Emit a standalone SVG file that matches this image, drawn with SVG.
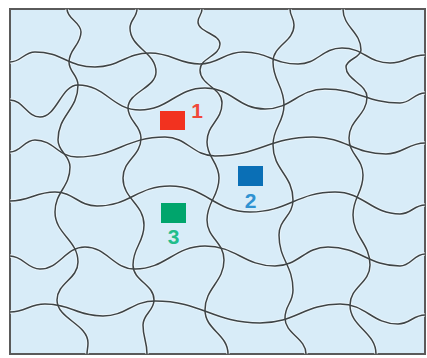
<svg xmlns="http://www.w3.org/2000/svg" width="427" height="358" viewBox="0 0 427 358">
<style>
.bg{fill:#d8ecf8;stroke:#5a5a5a;stroke-width:2}
.halo{fill:none;stroke:#f4fafd;stroke-width:3.4;opacity:0.7}
.ln{fill:none;stroke:#3e4446;stroke-width:1.5}
.lbl{font-family:"Liberation Sans",Arial,sans-serif;font-size:21px;font-weight:bold;text-anchor:middle}
</style>
<defs>
<g id="grid">
<path d="M10 62 C21 62 24 52 35 52 C62 52 68 67 95 67 C120 67 125 53 150 53 C172 53 178 64 200 64 C219 64 224 52 243 52 C268 52 273 64 298 64 C318 64 322 48 342 48 C364 48 368 63 390 63 C406 63 409 55 425 55"/>
<path d="M10 100 C23 100 27 117 40 117 C57 117 61 85 78 85 C106 85 112 110 140 110 C169 110 176 88 205 88 C232 88 238 109 265 109 C292 109 298 89 325 89 C359 89 366 103 400 103 C411 103 414 93 425 93"/>
<path d="M10 152 C21 152 24 140 35 140 C54 140 58 157 77 157 C117 157 125 137 165 137 C187 137 193 156 215 156 C259 156 269 137 313 137 C346 137 353 154 386 154 C403 154 408 143 425 143"/>
<path d="M10 201 C30 201 35 192 55 192 C74 192 78 206 97 206 C130 206 137 186 170 186 C206 186 214 212 250 212 C288 212 297 192 335 192 C364 192 371 214 400 214 C411 214 414 205 425 205"/>
<path d="M10 256 C23 256 27 269 40 269 C60 269 65 247 85 247 C107 247 113 269 135 269 C166 269 174 246 205 246 C236 246 244 266 275 266 C299 266 304 247 328 247 C360 247 368 266 400 266 C411 266 414 254 425 254"/>
<path d="M10 312 C26 312 29 304 45 304 C71 304 77 316 103 316 C126 316 132 301 155 301 C202 301 213 323 260 323 C296 323 304 304 340 304 C366 304 372 324 398 324 C410 324 413 315 425 315"/>
<path d="M67 9 C67 19 81 22 81 32 C81 45 69 49 69 62 C69 72 78 75 78 85 C78 110 58 115 58 140 C58 152 70 155 70 167 C70 187 55 192 55 212 C55 234 78 240 78 262 C78 279 57 283 57 300 C57 319 88 324 88 343 C88 348 87 350 87 354"/>
<path d="M137 9 C137 17 130 20 130 28 C130 48 156 52 156 72 C156 88 128 92 128 108 C128 121 141 125 141 138 C141 156 123 160 123 178 C123 199 144 204 144 225 C144 243 133 247 133 265 C133 281 154 284 154 300 C154 311 143 314 143 325 C143 338 147 341 147 354"/>
<path d="M202 9 C202 15 198 16 198 22 C198 32 220 34 220 44 C220 56 200 58 200 70 C200 85 222 88 222 103 C222 121 207 124 207 142 C207 158 219 162 219 178 C219 197 207 201 207 220 C207 238 224 242 224 260 C224 282 205 288 205 310 C205 330 228 334 228 354"/>
<path d="M290 9 C290 16 294 18 294 25 C294 42 273 45 273 62 C273 81 284 86 284 105 C284 123 273 127 273 145 C273 170 293 175 293 200 C293 216 279 219 279 235 C279 260 293 265 293 290 C293 303 285 305 285 318 C285 334 306 338 306 354"/>
<path d="M343 9 C343 27 361 32 361 50 C361 58 346 59 346 67 C346 80 367 84 367 97 C367 115 349 120 349 138 C349 155 363 158 363 175 C363 193 353 197 353 215 C353 237 370 243 370 265 C370 283 350 287 350 305 C350 327 376 332 376 354"/>
</g>
</defs>
<rect class="bg" x="10" y="9" width="415" height="345"/>
<g id="connectors">
<use href="#grid" class="halo"/>
<use href="#grid" class="ln"/>
</g>
<g id="node1">
<rect x="160" y="111" width="25" height="19" fill="#f2321f"/>
<text class="lbl" x="197" y="118" fill="#f0483a">1</text>
</g>
<g id="node2">
<rect x="238" y="166" width="25" height="20" fill="#0a6fb6"/>
<text class="lbl" x="250.5" y="208" fill="#2f92d2">2</text>
</g>
<g id="node3">
<rect x="161" y="203" width="25" height="20" fill="#00a56c"/>
<text class="lbl" x="173.5" y="244" fill="#22bd8a">3</text>
</g>
</svg>
